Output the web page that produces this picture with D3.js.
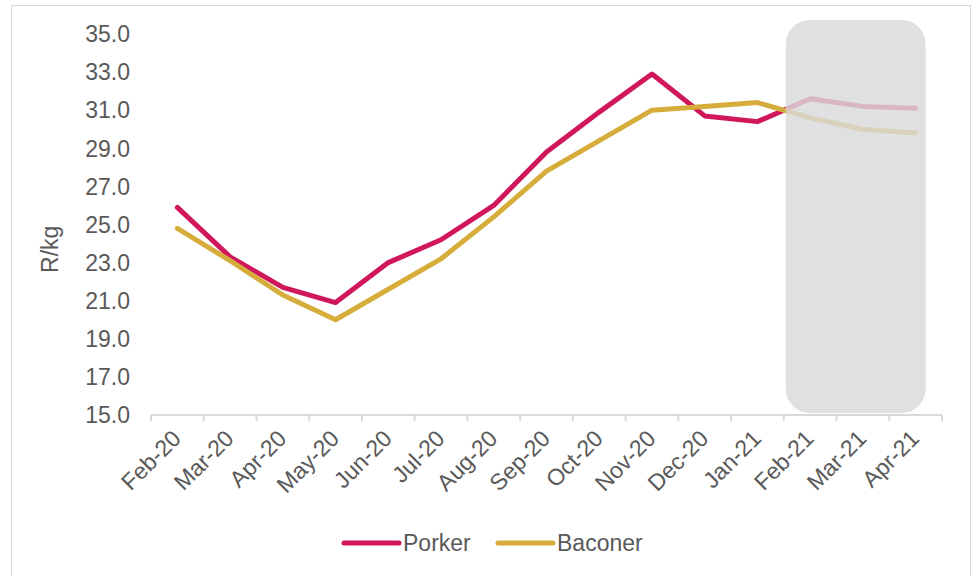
<!DOCTYPE html>
<html>
<head>
<meta charset="utf-8">
<script src="https://cdn.jsdelivr.net/npm/d3@7"></script>
<style>
  body { margin: 0; background: #fff; }
  svg text { font-family: "Liberation Sans", Arial, sans-serif; fill: #595959; }
</style>
</head>
<body>
<svg id="chart" width="973" height="576"></svg>
<script>
// chart data
var months = ["Feb-20", "Mar-20", "Apr-20", "May-20", "Jun-20", "Jul-20", "Aug-20", "Sep-20",
  "Oct-20", "Nov-20", "Dec-20", "Jan-21", "Feb-21", "Mar-21", "Apr-21"];
var porker = [25.9, 23.3, 21.7, 20.9, 23.0, 24.2, 26.0, 28.8, 30.9, 32.9, 30.7, 30.4, 31.6, 31.2, 31.1];
var baconer = [24.8, 23.1, 21.3, 20.0, 21.6, 23.2, 25.4, 27.8, 29.4, 31.0, 31.2, 31.4, 30.6, 30.0, 29.8];
var yTicks = [15, 17, 19, 21, 23, 25, 27, 29, 31, 33, 35];
var forecastFrom = "Feb-21";

const PORKER_COL = "#d0175c";
const BACONER_COL = "#d6ac3a";
const FS = "23px";

var svg = d3.select("#chart");

// outer frame
svg.append("rect")
  .attr("x", 11.5).attr("y", 5.5).attr("width", 959).attr("height", 580)
  .attr("fill", "none").attr("stroke", "#d9d9d9");

var x = d3.scaleBand().domain(months).range([151, 942]);
var y = d3.scaleLinear().domain([15, 35]).range([415, 34]);

// y tick labels (no axis line)
svg.selectAll("text.ytick")
  .data(yTicks)
  .enter()
  .append("text")
  .attr("class", "ytick")
  .attr("x", 130)
  .attr("y", d => y(d))
  .attr("dy", "0.36em")
  .attr("text-anchor", "end")
  .style("font-size", FS)
  .text(d => d.toFixed(1));

svg.append("text")
  .attr("transform", "translate(58," + y(23.7) + ") rotate(-90)")
  .attr("text-anchor", "middle")
  .style("font-size", FS)
  .text("R/kg");

// x axis
var xAxis = svg.append("g").attr("transform", "translate(0,415)");
xAxis.append("line")
  .attr("x1", 151).attr("x2", 942)
  .attr("stroke", "#d9d9d9").attr("stroke-width", 2);
xAxis.selectAll("line.tick")
  .data(months.concat(["end"]))
  .enter()
  .append("line")
  .attr("class", "tick")
  .attr("x1", (d, i) => i < months.length ? x(d) : x.range()[1])
  .attr("x2", (d, i) => i < months.length ? x(d) : x.range()[1])
  .attr("y1", 0).attr("y2", 6)
  .attr("stroke", "#d9d9d9").attr("stroke-width", 2);
xAxis.selectAll("text")
  .data(months)
  .enter()
  .append("text")
  .attr("transform", d => "translate(" + (x(d) + x.bandwidth() / 2 + 5) + ",25) rotate(-45)")
  .attr("text-anchor", "end")
  .style("font-size", FS)
  .text(d => d);

var cx = d => x(d) + x.bandwidth() / 2;

var line = d3.line()
  .x((d, i) => cx(months[i]))
  .y(d => y(d));

[[porker, PORKER_COL], [baconer, BACONER_COL]].forEach(s => {
  svg.append("path")
    .attr("d", line(s[0]))
    .attr("fill", "none")
    .attr("stroke", s[1])
    .attr("stroke-width", 5)
    .attr("stroke-linejoin", "round")
    .attr("stroke-linecap", "round");
});

// forecast shading drawn over the lines
var boxX = x(forecastFrom) + 2;
var boxR = cx(months[months.length - 1]) + 10;
svg.append("rect")
  .attr("x", boxX).attr("y", 20)
  .attr("width", boxR - boxX).attr("height", 393)
  .attr("rx", 24).attr("ry", 24)
  .attr("fill", "#d9d9d9")
  .attr("fill-opacity", 0.82);

// legend
var legend = [["Porker", PORKER_COL, 344], ["Baconer", BACONER_COL, 498]];
legend.forEach(l => {
  svg.append("line")
    .attr("x1", l[2]).attr("x2", l[2] + 55)
    .attr("y1", 543).attr("y2", 543)
    .attr("stroke", l[1]).attr("stroke-width", 5)
    .attr("stroke-linecap", "round");
  svg.append("text")
    .attr("x", l[2] + 59).attr("y", 543)
    .attr("dy", "0.36em")
    .style("font-size", FS)
    .text(l[0]);
});
</script>
</body>
</html>
